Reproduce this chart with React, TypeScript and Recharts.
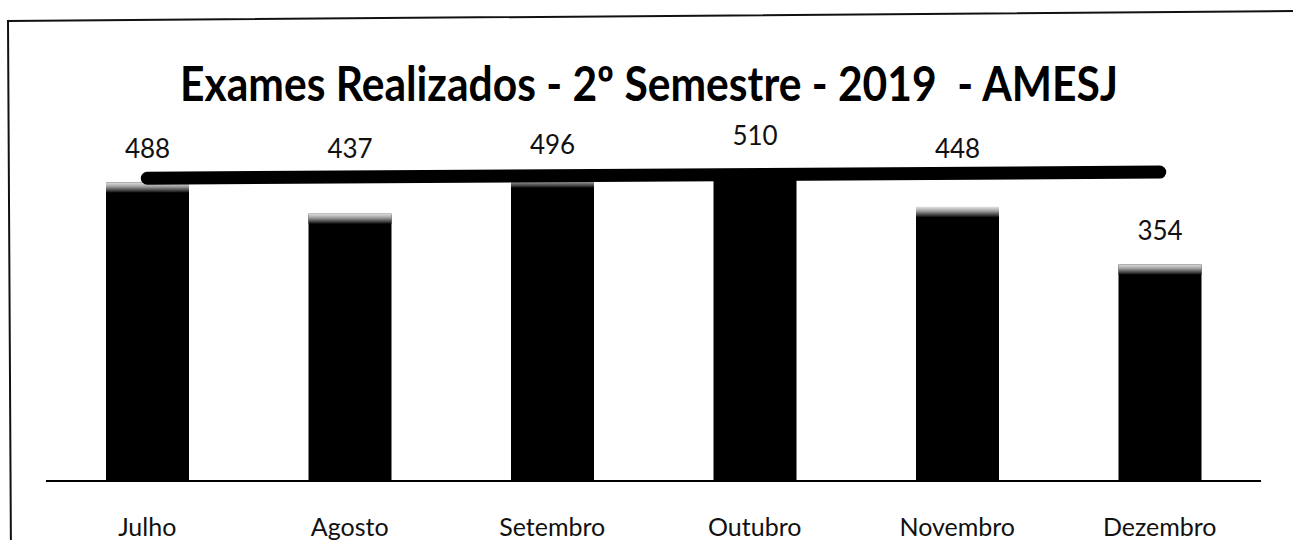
import { BarChart, Bar, XAxis, YAxis, LabelList, ReferenceLine } from "recharts";

const months = ["Julho", "Agosto", "Setembro", "Outubro", "Novembro", "Dezembro"];
const exams = [488, 437, 496, 510, 448, 354];

// decorative thick bar drawn across the chart (left end, right end)
const bandStart = 495;
const bandEnd = 505;

const title = "Exames Realizados - 2º Semestre - 2019  - AMESJ";
const font = "Lato, 'Liberation Sans', sans-serif";

const data = months.map((month, i) => ({ month, value: exams[i] }));

const BarWithTop = (props: any) => {
  const { x, y, width, height, index } = props;
  if (!height || height <= 0) return null;
  const gid = `top-${index}`;
  return (
    <g>
      <defs>
        <linearGradient id={gid} x1="0" y1="0" x2="0" y2="1">
          <stop offset="0%" stopColor="#e0e0e0" />
          <stop offset="40%" stopColor="#a0a0a0" />
          <stop offset="100%" stopColor="#111" />
        </linearGradient>
      </defs>
      <rect x={x} y={y} width={width} height={height} fill="#000" />
      <rect x={x} y={y} width={width} height={10} fill={`url(#${gid})`} />
    </g>
  );
};

const ValueLabel = (props: any) => {
  const { x, y, width, value } = props;
  // labels that would sit on the band are lifted above it
  const natural = y - 24;
  const baseline = natural > 158 && natural < 210 ? 158 : natural;
  return (
    <text x={x + width / 2} y={baseline} textAnchor="middle" fontSize={26} fontFamily={font} fill="#111">
      {value}
    </text>
  );
};

const MonthTick = (props: any) => {
  const { x, y, payload } = props;
  return (
    <text x={x} y={y} dy={47} textAnchor="middle" fontSize={25} fontFamily={font} fill="#111">
      {payload.value}
    </text>
  );
};

const App = () => {
  return (
    <div style={{ position: "absolute", left: 0, top: 0, width: 1293, height: 540, background: "#fff" }}>
      <svg width={1293} height={540} style={{ position: "absolute", left: 0, top: 0 }}>
        <path d="M11 560 L8 21 L1300 11" fill="none" stroke="#111" strokeWidth={2} />
        <text
          x={649}
          y={101}
          textAnchor="middle"
          fontSize={48}
          fontWeight="bold"
          fontFamily={font}
          fill="#000"
          textLength={938}
          lengthAdjust="spacingAndGlyphs"
          style={{ whiteSpace: "pre" }}
        >
          {title}
        </text>
      </svg>
      <div style={{ position: "absolute", left: 0, top: 0 }}>
        <BarChart width={1293} height={540} data={data} margin={{ top: 114, right: 32, bottom: 0, left: 46 }}>
          <XAxis
            dataKey="month"
            axisLine={{ stroke: "#000", strokeWidth: 2 }}
            tickLine={false}
            tick={<MonthTick />}
            height={59}
            interval={0}
          />
          <YAxis hide domain={[0, 600]} />
          <Bar dataKey="value" barSize={83} shape={<BarWithTop />} isAnimationActive={false}>
            <LabelList dataKey="value" content={<ValueLabel />} />
          </Bar>
          <ReferenceLine
            segment={[
              { x: months[0], y: bandStart },
              { x: months[months.length - 1], y: bandEnd },
            ]}
            stroke="#000"
            strokeWidth={13}
            strokeLinecap="round"
          />
        </BarChart>
      </div>
    </div>
  );
};

export default App;
